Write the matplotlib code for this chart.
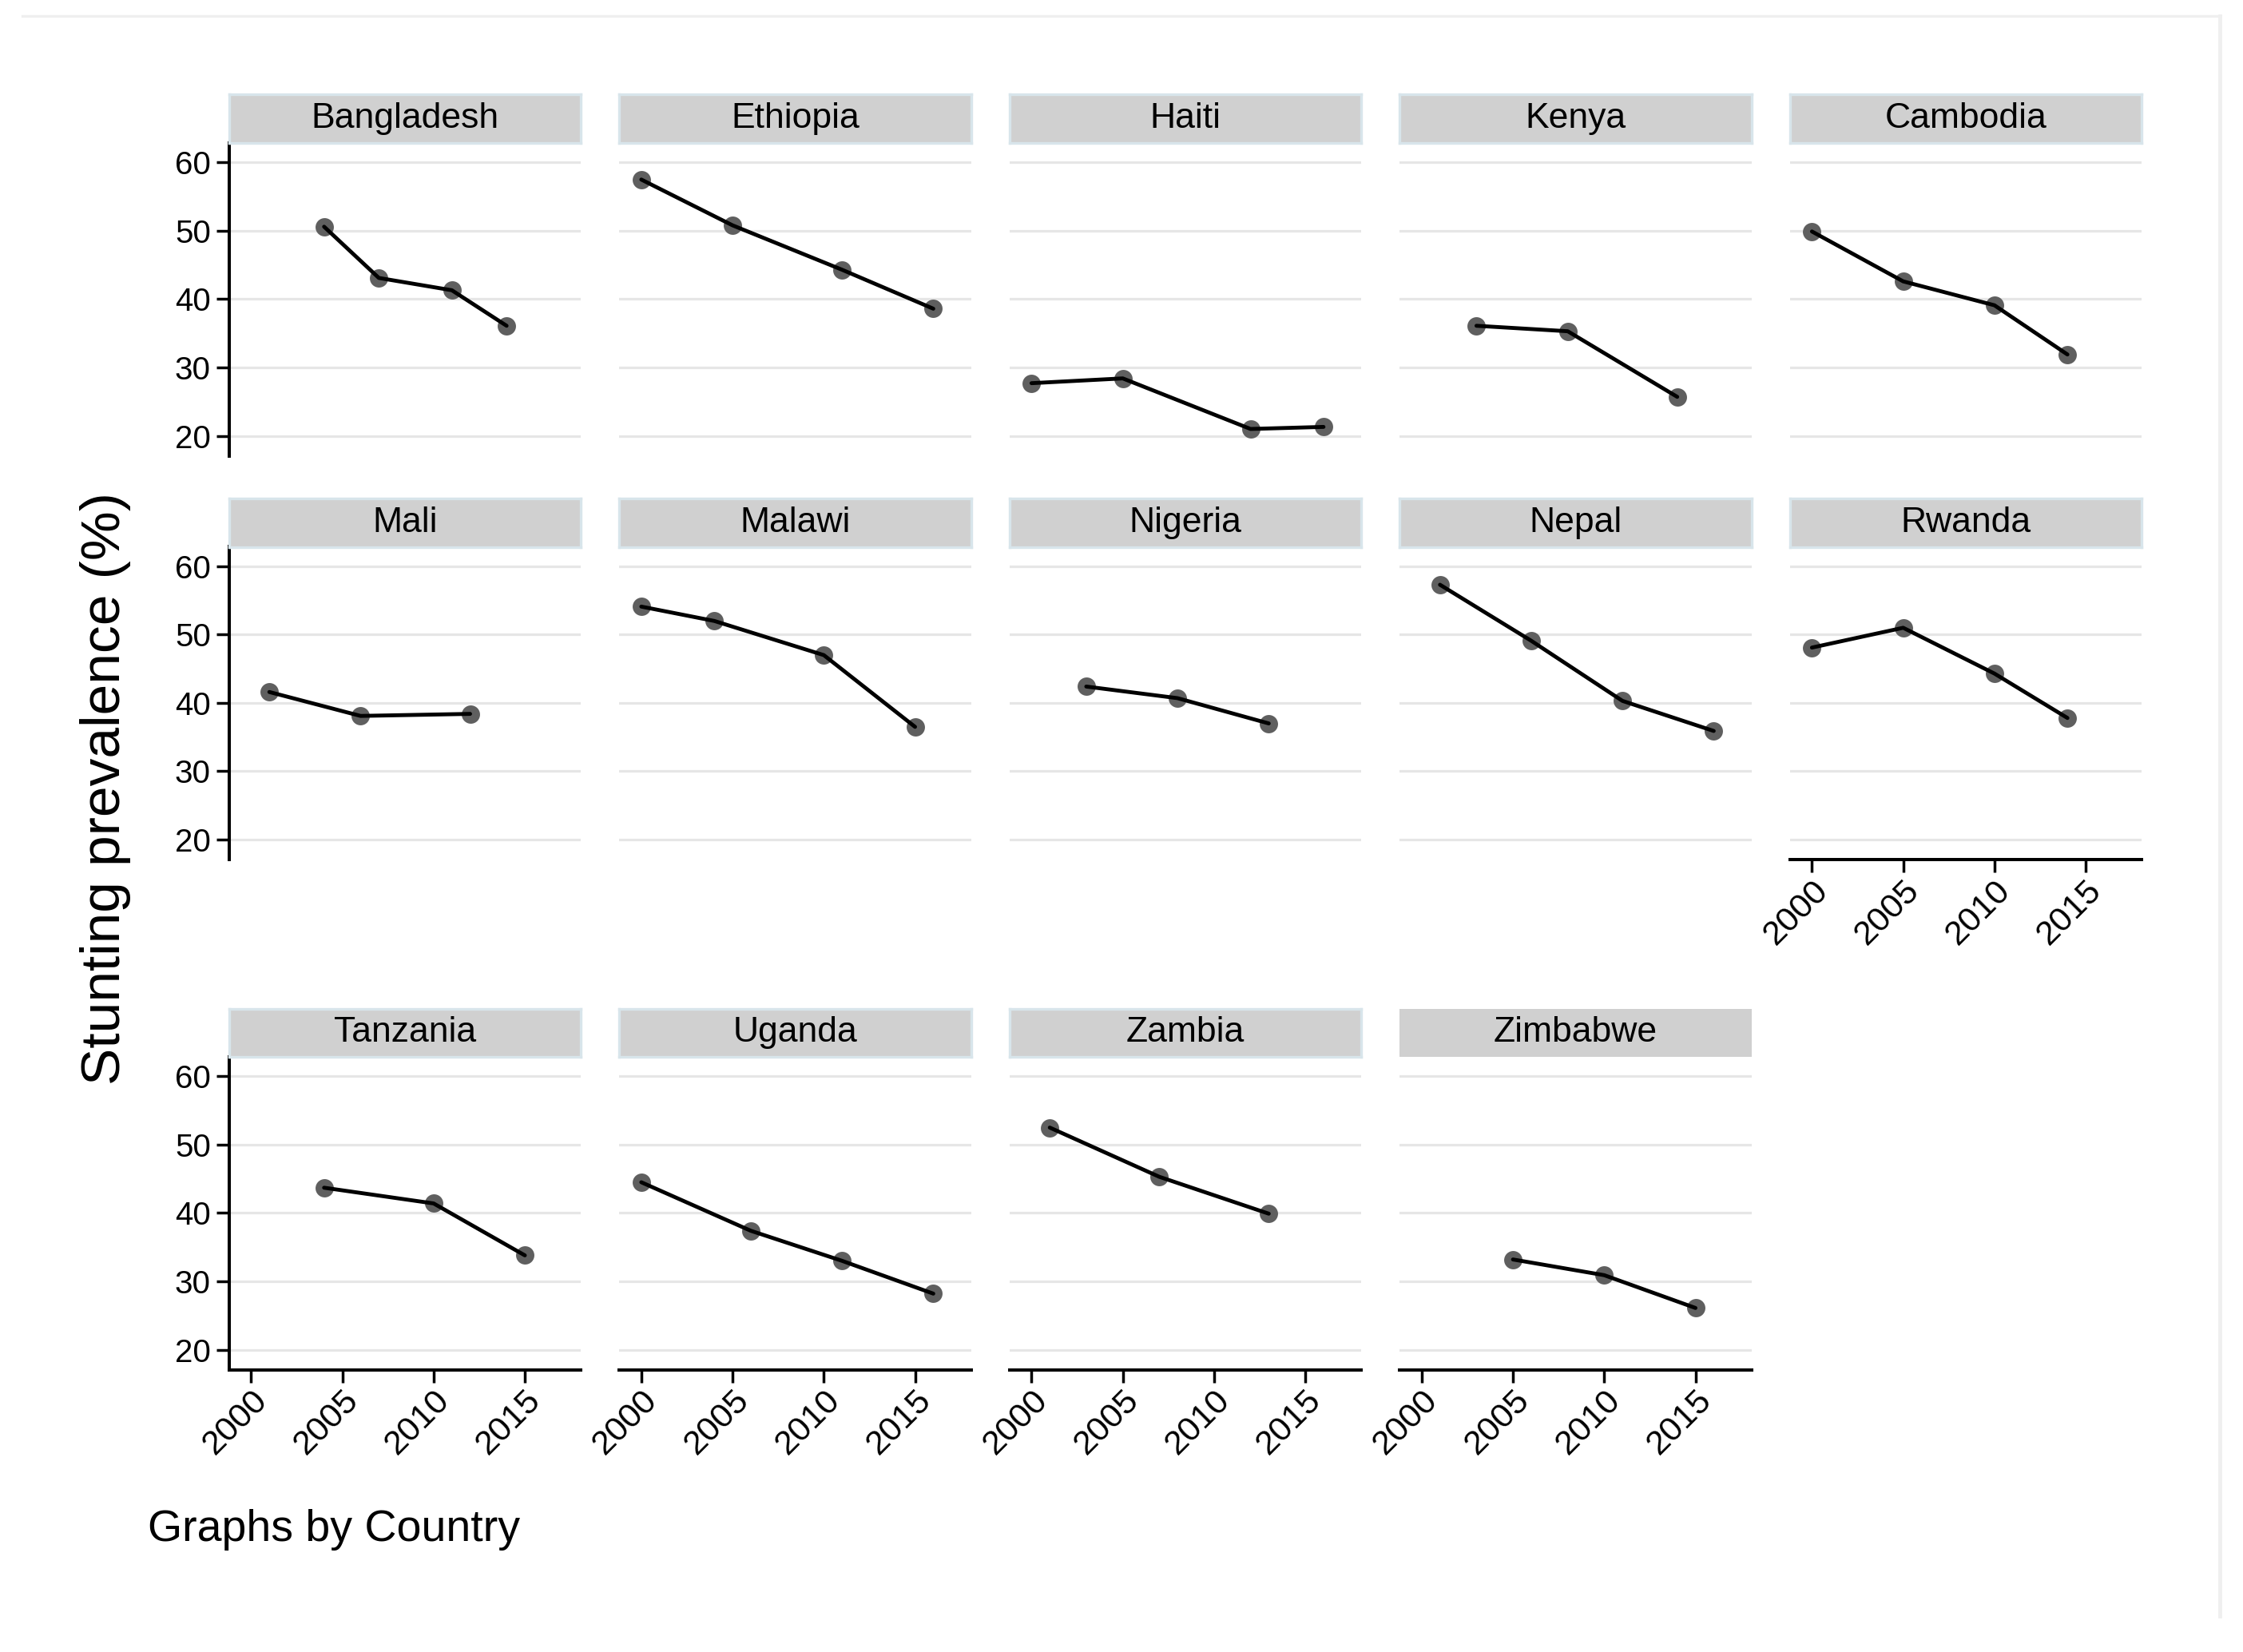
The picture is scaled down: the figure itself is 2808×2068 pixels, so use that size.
import matplotlib
matplotlib.use("Agg")
import matplotlib.pyplot as plt
from matplotlib.lines import Line2D

plt.rcParams['font.family'] = ['Liberation Sans', 'DejaVu Sans']

countries = ["Bangladesh", "Ethiopia", "Haiti", "Kenya", "Cambodia",
             "Mali", "Malawi", "Nigeria", "Nepal", "Rwanda",
             "Tanzania", "Uganda", "Zambia", "Zimbabwe"]

years = {
    "Bangladesh": [2004, 2007, 2011, 2014],
    "Ethiopia":   [2000, 2005, 2011, 2016],
    "Haiti":      [2000, 2005, 2012, 2016],
    "Kenya":      [2003, 2008, 2014],
    "Cambodia":   [2000, 2005, 2010, 2014],
    "Mali":       [2001, 2006, 2012],
    "Malawi":     [2000, 2004, 2010, 2015],
    "Nigeria":    [2003, 2008, 2013],
    "Nepal":      [2001, 2006, 2011, 2016],
    "Rwanda":     [2000, 2005, 2010, 2014],
    "Tanzania":   [2004, 2010, 2015],
    "Uganda":     [2000, 2006, 2011, 2016],
    "Zambia":     [2001, 2007, 2013],
    "Zimbabwe":   [2005, 2010, 2015],
}

stunting = {
    "Bangladesh": [50.6, 43.1, 41.3, 36.1],
    "Ethiopia":   [57.5, 50.8, 44.3, 38.6],
    "Haiti":      [27.7, 28.4, 21.0, 21.3],
    "Kenya":      [36.1, 35.3, 25.7],
    "Cambodia":   [49.9, 42.6, 39.1, 31.9],
    "Mali":       [41.6, 38.1, 38.4],
    "Malawi":     [54.1, 52.0, 47.0, 36.5],
    "Nigeria":    [42.4, 40.7, 37.0],
    "Nepal":      [57.3, 49.1, 40.3, 35.9],
    "Rwanda":     [48.1, 51.0, 44.3, 37.8],
    "Tanzania":   [43.7, 41.4, 33.8],
    "Uganda":     [44.5, 37.4, 33.0, 28.2],
    "Zambia":     [52.5, 45.3, 39.9],
    "Zimbabwe":   [33.2, 30.9, 26.1],
}

y_ticks = [20, 30, 40, 50, 60]
x_ticks = [2000, 2005, 2010, 2015]
x_tick_labels = ["2000", "2005", "2010", "2015"]

ylabel = "Stunting prevalence (%)"
note = "Graphs by Country"

W, H = 2808, 2068
fig = plt.figure(figsize=(W / 100, H / 100), dpi=100)
fig.patch.set_facecolor("white")

# outer frame (light grey, top and right)
fig.add_artist(Line2D([28 / W, 2779 / W], [1 - 19.5 / H, 1 - 19.5 / H],
                      transform=fig.transFigure, color="#efefef", lw=2.4))
fig.add_artist(Line2D([2779 / W, 2779 / W], [1 - 19.5 / H, 1 - 2023 / H],
                      transform=fig.transFigure, color="#efefef", lw=3.5))

ncol = 5
col_left0 = 286.7
col_pitch = 488.5
col_w = 440.5
row_tops = [179.0, 684.5, 1323.0]
row_h = 391.5
strip_h = 60.5

XLIM = (1998.79, 2018.07)
YLIM = (17.08, 62.85)

n = len(countries)
for i, c in enumerate(countries):
    r, col = divmod(i, ncol)
    left = col_left0 + col * col_pitch
    top = row_tops[r]
    ax = fig.add_axes([left / W, 1 - (top + row_h) / H, col_w / W, row_h / H])
    ax.set_xlim(*XLIM)
    ax.set_ylim(*YLIM)
    ax.set_facecolor("white")
    ax.set_yticks(y_ticks)
    ax.set_xticks(x_ticks)
    ax.yaxis.grid(True, color="#e6e6e6", lw=2.3)
    ax.xaxis.grid(False)
    ax.set_axisbelow(True)

    is_left = (col == 0)
    is_bottom = (i + ncol >= n)

    for s in ["top", "right"]:
        ax.spines[s].set_visible(False)
    ax.spines["left"].set_visible(is_left)
    ax.spines["bottom"].set_visible(is_bottom)
    ax.spines["left"].set_linewidth(2.9)
    ax.spines["bottom"].set_linewidth(2.9)

    ax.tick_params(axis="y", left=is_left, labelleft=is_left, length=11.5,
                   width=2.5, labelsize=29, pad=5)
    ax.tick_params(axis="x", bottom=is_bottom, labelbottom=is_bottom,
                   length=11.5, width=2.5, labelsize=31, pad=1.5)
    if is_bottom:
        ax.set_xticklabels(x_tick_labels, rotation=45, ha="right",
                           va="top", rotation_mode="anchor")

    ax.plot(years[c], stunting[c], linestyle="none", marker="o",
            markersize=16.5, color="#5f5f5f", markeredgewidth=0, zorder=3)
    ax.plot(years[c], stunting[c], color="black", lw=3.5, zorder=4,
            solid_capstyle="round")

    # strip
    sax = fig.add_axes([left / W, 1 - (top) / H, col_w / W, strip_h / H])
    sax.set_facecolor("#d0d0d0")
    sax.set_xticks([])
    sax.set_yticks([])
    for s in sax.spines.values():
        if c == "Zimbabwe":
            s.set_visible(False)
        else:
            s.set_color("#d8e5eb")
            s.set_linewidth(2.4)
    sax.text(0.5, 0.5, c, ha="center", va="center", fontsize=32,
             transform=sax.transAxes)

fig.text(132.5 / W, 1 - 987 / H, ylabel, rotation=90, ha="center",
         va="center", fontsize=50)
fig.text(185 / W, 1 - 1929 / H, note, ha="left", va="baseline", fontsize=40)

fig.savefig("out.png", dpi=100, facecolor="white")
